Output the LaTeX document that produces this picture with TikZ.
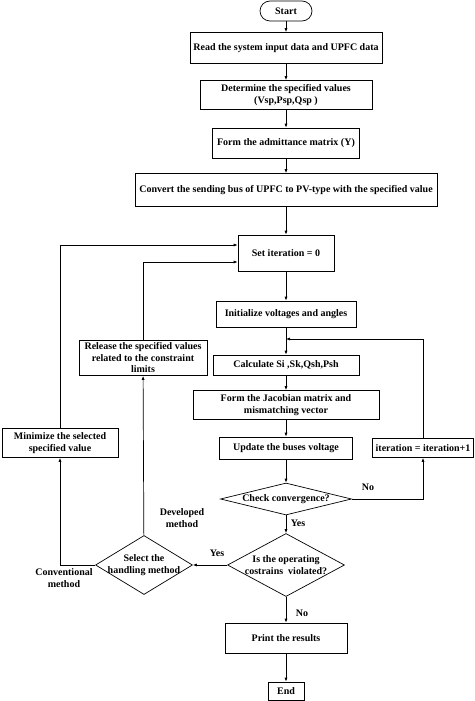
\documentclass[tikz,border=0pt]{standalone}
\usepackage{fontspec}
\setmainfont{Liberation Serif}
\usetikzlibrary{positioning}
\usetikzlibrary{shapes.geometric,arrows.meta}

\begin{document}
\begin{tikzpicture}[x=1pt,y=-1pt,->,>={Latex[length=4pt,width=3pt]},line width=0.7pt,
  font=\fontsize{10}{11.5}\selectfont\bfseries,
  process/.style={rectangle,draw,align=center,inner sep=2pt},
  terminal/.style={rectangle,rounded corners=10pt,draw,minimum width=52pt,minimum height=20pt},
  decision/.style={diamond,draw,align=center,inner sep=0pt},
  tag/.style={align=center,inner sep=1pt}]

\useasboundingbox (0,0) rectangle (474,701);

% The main column
  \node[terminal] (start) at (286,11) {Start};
  \node[process,minimum width=192pt,minimum height=31pt] (read) at (286,48) {Read the system input data and UPFC data};
  \node[process,minimum width=172pt,minimum height=29pt] (spec) at (286,95) {Determine the specified values\\(Vsp,Psp,Qsp )};
  \node[process,minimum width=147pt,minimum height=30pt] (Ymat) at (286,143) {Form the admittance matrix (Y)};
  \node[process,minimum width=302pt,minimum height=33pt] (conv) at (286,190) {Convert the sending bus of UPFC to PV-type with the specified value};
  \node[process,minimum width=96pt,minimum height=36pt] (iter0) at (286,253) {Set iteration = 0};
  \node[process,minimum width=140pt,minimum height=26pt] (init) at (286,314) {Initialize voltages and angles};
  \node[process,minimum width=146pt,minimum height=20pt] (calc) at (286,365) {Calculate Si ,Sk,Qsh,Psh};
  \node[process,minimum width=186pt,minimum height=29pt] (jac) at (286,405) {Form the Jacobian matrix and\\mismatching vector};
  \node[process,minimum width=133pt,minimum height=22pt] (upd) at (286,448) {Update the buses voltage};
  \node[decision,minimum width=131pt,minimum height=32pt,aspect=4] (check) at (286,499) {Check convergence?};
  \node[decision,minimum width=117pt,minimum height=63pt,aspect=1.85] (viol) at (286,565) {Is the operating\\costrains \ violated?};
  \node[process,minimum width=122pt,minimum height=30pt] (print) at (286,638) {Print the results};
  \node[process,minimum width=36pt,minimum height=18pt] (end) at (286,691) {End};
% The side branches
  \node[process,minimum width=101pt,minimum height=19pt] (inc) at (423,448) {iteration = iteration+1};
  \node[process,minimum width=128pt,minimum height=35pt] (rel) at (143,358) {Release the specified values\\related to the constraint\\limits};
  \node[process,minimum width=116pt,minimum height=29pt] (mini) at (60,443) {Minimize the selected\\specified value};
  \node[decision,minimum width=97pt,minimum height=59pt,aspect=1.64,inner sep=-5pt] (sel) at (144,565) {Select the\\handling method};
  \coordinate (loop) at (286,339);
% The labels
  \node[tag] (noConv) at (368,487) {No};
  \node[tag] (yesConv) at (298,523) {Yes};
  \node[tag] (yesViol) at (217,553) {Yes};
  \node[tag] (devLbl) at (182,518) {Developed\\method};
  \node[tag] (convLbl) at (64,578) {Conventional\\method};
  \node[tag] (noViol) at (302,613) {No};

% The arrows between the nodes
 \path
 (start) edge (read)
 (read) edge (spec)
 (spec) edge (Ymat)
 (Ymat) edge (conv)
 (conv) edge (iter0)
 (iter0) edge (init)
 (init) edge (calc)
 (calc) edge (jac)
 (jac) edge (upd)
 (upd) edge (check)
 (check) edge (viol)
 (viol) edge (print)
 (print) edge (end)
 (viol) edge (sel)
 (sel) edge (rel);
 \draw (check.east) -| (inc.south);
 \draw (inc.north) |- (loop);
 \draw (sel.west) -| (mini.south);
 \draw (mini.north) |- ([yshift=8pt]iter0.west);
 \draw (rel.north) |- ([yshift=-9pt]iter0.west);

\end{tikzpicture}
\end{document}
